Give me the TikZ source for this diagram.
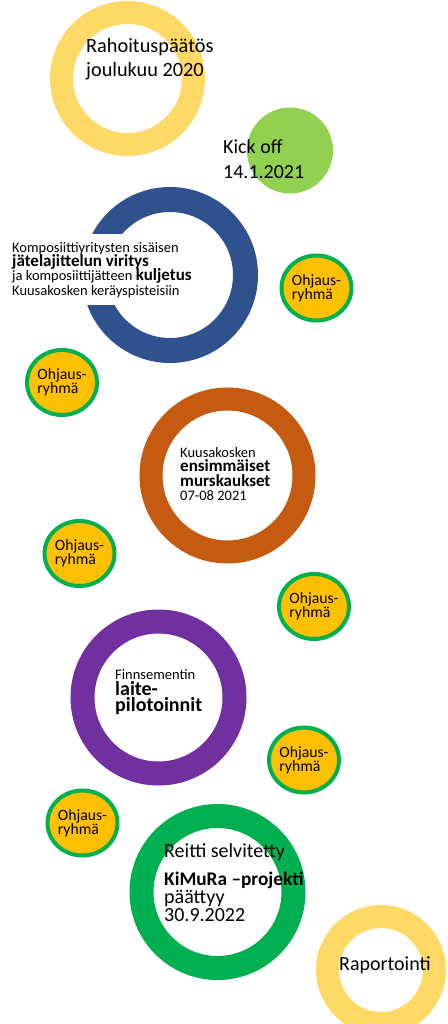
\documentclass[tikz,border=0pt]{standalone}
\usepackage{fontspec}
\setmainfont{Carlito}
\usetikzlibrary{positioning,shapes.geometric}
\definecolor{kulta}{HTML}{FFD966}
\definecolor{kickvihrea}{HTML}{92D050}
\definecolor{sininen}{HTML}{2F528F}
\definecolor{oranssi}{HTML}{C55A11}
\definecolor{violetti}{HTML}{7030A0}
\definecolor{vihrea}{HTML}{00B050}
\definecolor{keltainen}{HTML}{FFC000}
\setlength{\lineskiplimit}{-100pt}

\begin{document}
\begin{tikzpicture}[x=1pt,y=-1pt]
	\tikzset{ring/.style={circle,inner sep=0pt,line width=23pt},
		ohjaus/.style={ellipse,draw=vihrea,fill=keltainen,line width=4pt,minimum width=70pt,minimum height=65pt,inner sep=0pt,align=left,font=\fontsize{15.7}{14}\selectfont},
		txt/.style={anchor=base west,inner sep=0pt,align=left}}
	\clip (0,0) rectangle (447,1024);
	\node[ring, draw=kulta, minimum size=132pt] (rahoitus) at (127.5,78.5) {};
	\node[circle, fill=kickvihrea, minimum size=86pt] (kickoff) at (290,150.5) {};
	\node[ring, draw=sininen, line width=25pt, minimum size=151pt] (viritys) at (170,275) {};
	\node[ring, draw=oranssi, minimum size=153pt] (murskaus) at (227.5,475.5) {};
	\node[ring, draw=violetti, line width=24pt, minimum size=152pt] (pilotointi) at (158.5,697.5) {};
	\node[ring, draw=vihrea, line width=24pt, minimum size=152pt] (paattyy) at (217.5,892) {};
	\node[ring, draw=kulta, minimum size=107pt] (raportointi) at (381,970) {};
	\node[ohjaus] (ohj1) at (316.5,288) {Ohjaus-\\ryhmä};
	\node[ohjaus] (ohj2) at (62,382.5) {Ohjaus-\\ryhmä};
	\node[ohjaus] (ohj3) at (79.5,553.5) {Ohjaus-\\ryhmä};
	\node[ohjaus] (ohj4) at (314,606.5) {Ohjaus-\\ryhmä};
	\node[ohjaus] (ohj5) at (304,760) {Ohjaus-\\ryhmä};
	\node[ohjaus] (ohj6) at (82.5,823) {Ohjaus-\\ryhmä};
	\node[txt, font=\fontsize{20.3}{24}\selectfont] (rahoitusteksti) at (86,77) {Rahoituspäätös\\joulukuu 2020};
	\node[txt, font=\fontsize{20}{25}\selectfont] (kickoffteksti) at (223,179) {Kick off\\14.1.2021};
	\node[txt, fill=white, inner xsep=2pt, inner ysep=8pt, font=\fontsize{14.5}{14.2}\selectfont] (viritysteksti) at (10,295)
		{Komposiittiyritysten sisäisen\\{\fontsize{17}{14.2}\selectfont\bfseries jätelajittelun viritys}\\ja komposiittijätteen {\fontsize{17}{14.2}\selectfont\bfseries kuljetus}\\Kuusakosken keräyspisteisiin};
	\node[txt, font=\fontsize{14.5}{14.5}\selectfont] (murskausteksti) at (180,500.7)
		{Kuusakosken\\{\fontsize{17}{14.5}\selectfont\bfseries ensimmäiset}\\{\fontsize{17}{14.5}\selectfont\bfseries murskaukset}\\07-08 2021};
	\node[txt, font=\fontsize{14.5}{16}\selectfont] (pilotointiteksti) at (115,711)
		{Finnsementin\\{\fontsize{20}{16}\selectfont\bfseries laite-}\\{\fontsize{20}{16}\selectfont\bfseries pilotoinnit}};
	\node[txt, font=\fontsize{20}{17.7}\selectfont] (paattyyteksti) at (164,921)
		{Reitti selvitetty\\[10pt]{\fontsize{19.3}{17.7}\selectfont\bfseries KiMuRa –projekti}\\päättyy\\30.9.2022};
	\node[txt, font=\fontsize{20}{24}\selectfont] (raportointiteksti) at (339,970) {Raportointi};
\end{tikzpicture}
\end{document}
